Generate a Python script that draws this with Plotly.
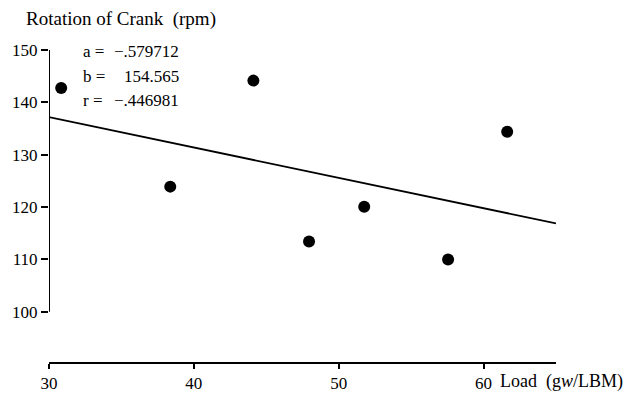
import plotly.graph_objects as go

# Measured load vs. crank rotation
load = [30.84, 38.37, 44.11, 47.95, 51.76, 57.55, 61.63]
rpm = [142.75, 123.9, 144.15, 113.4, 120.05, 110.0, 134.4]

# Regression results (rpm = a * load + b)
slope_a = -0.579712
intercept_b = 154.565
corr_r = -0.446981

x_ticks = [30, 40, 50, 60]
y_ticks = [100, 110, 120, 130, 140, 150]

X_RANGE = [30, 65]
Y_RANGE = [90.4, 150]

FONT = "Liberation Serif, DejaVu Serif, Times New Roman, serif"
INK = "black"

fig = go.Figure()

# Points
fig.add_trace(go.Scatter(
    x=load, y=rpm, mode="markers",
    marker=dict(size=12, color=INK),
    cliponaxis=False, showlegend=False, hoverinfo="skip",
))

# Fitted line across the x range
fit_x = [X_RANGE[0], X_RANGE[1]]
fit_y = [slope_a * v + intercept_b for v in fit_x]
fig.add_trace(go.Scatter(
    x=fit_x, y=fit_y, mode="lines",
    line=dict(color=INK, width=1.8),
    showlegend=False, hoverinfo="skip",
))

# Vertical axis drawn only over its labelled span
fig.add_shape(type="line", xref="x", yref="y",
              x0=X_RANGE[0], x1=X_RANGE[0], y0=y_ticks[0], y1=y_ticks[-1],
              line=dict(color=INK, width=2))

fig.update_layout(
    width=639, height=405,
    margin=dict(l=42, r=83, t=50, b=32),
    paper_bgcolor="white", plot_bgcolor="white",
    font=dict(family=FONT, size=17, color=INK),
    xaxis=dict(
        range=X_RANGE, tickvals=x_ticks, ticktext=[str(v) for v in x_ticks],
        showline=True, linecolor=INK, linewidth=2,
        ticks="outside", ticklen=5, tickwidth=1.5, tickcolor=INK,
        showgrid=False, zeroline=False,
        tickfont=dict(family=FONT, size=17, color=INK),
    ),
    yaxis=dict(
        range=Y_RANGE, tickvals=y_ticks, ticktext=[str(v) for v in y_ticks],
        showline=False,
        ticks="outside", ticklen=7, tickwidth=1.5, tickcolor=INK,
        showgrid=False, zeroline=False,
        tickfont=dict(family=FONT, size=17, color=INK),
    ),
)

def fmt(v):
    s = f"{abs(v):.6f}".lstrip("0") if abs(v) < 1 else f"{abs(v):.3f}"
    return ("\u2212" if v < 0 else "") + s

ann = []
# Axis titles
ann.append(dict(text="Rotation of Crank  (rpm)", xref="paper", yref="paper",
                x=-0.05, y=1.099, xanchor="left", yanchor="middle",
                showarrow=False, font=dict(family=FONT, size=19, color=INK)))
ann.append(dict(text="Load  (g<i>w</i>/LBM)", xref="paper", yref="paper",
                x=(497 - 42) / 514, y=-0.062, xanchor="left", yanchor="middle",
                showarrow=False, font=dict(family=FONT, size=18, color=INK)))

# Regression statistics
stats = [("a =", fmt(slope_a)), ("b =", fmt(intercept_b)), ("r =", fmt(corr_r))]
rows_y = [0.9938, 0.916, 0.839]
for (lab, val), yy in zip(stats, rows_y):
    ann.append(dict(text=lab, xref="paper", yref="paper", x=(74 - 42) / 514, y=yy,
                    xanchor="left", yanchor="middle", showarrow=False,
                    font=dict(family=FONT, size=17, color=INK)))
    ann.append(dict(text=val, xref="paper", yref="paper", x=(176 - 42) / 514, y=yy,
                    xanchor="right", yanchor="middle", showarrow=False,
                    font=dict(family=FONT, size=17, color=INK)))

fig.update_layout(annotations=ann)
fig.write_html("out.html")
